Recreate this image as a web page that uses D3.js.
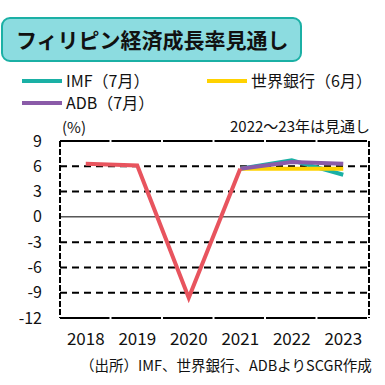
<!DOCTYPE html>
<html><head><meta charset="utf-8">
<script src="https://cdn.jsdelivr.net/npm/d3@7"></script>
<style>body{margin:0;background:#fff}svg{display:block;font-family:"Noto Sans CJK JP","Noto Sans",sans-serif}</style>
</head><body><svg id="c" width="385" height="385"></svg>
<script>
const years = ["2018","2019","2020","2021","2022","2023"];
const actual = [6.3, 6.1, -9.6, 5.7];
const imf = [5.7, 6.7, 5.0];
const wb = [5.7, 5.7, 5.7];
const adb = [5.7, 6.5, 6.3];
const forecastYears = ["2021","2022","2023"];
const yTicks = [9, 6, 3, 0, -3, -6, -9, -12];

const svg = d3.select("#c");
const x = d3.scaleBand().domain(years).range([60, 369]);
const y = d3.scaleLinear().domain([-12, 9]).range([318, 141]);
const cx = d => x(d) + x.bandwidth()/2;

// title
svg.append("rect").attr("x",2).attr("y",18).attr("width",299).attr("height",43).attr("rx",8)
  .attr("fill","#8CDCE0").attr("stroke","#1BB0A5").attr("stroke-width",2);
svg.append("text").attr("x",16).attr("y",48).attr("font-size",21).attr("font-weight","bold")
  .attr("fill","#111").text("フィリピン経済成長率見通し");

// legend
const leg = [
  {t:"IMF（7月）", c:"#1AB0A5", x:22, y:81},
  {t:"世界銀行（6月）", c:"#FFD200", x:207, y:81},
  {t:"ADB（7月）", c:"#8A5BA8", x:22, y:103}
];
leg.forEach(l=>{
  svg.append("line").attr("x1",l.x).attr("x2",l.x+40).attr("y1",l.y).attr("y2",l.y)
    .attr("stroke",l.c).attr("stroke-width",4);
  svg.append("text").attr("x",l.x+44).attr("y",l.y+6).attr("font-size",16).attr("fill","#111").text(l.t);
});

svg.append("text").attr("x",62).attr("y",133).attr("font-size",15).attr("fill","#111").text("(%)");
svg.append("text").attr("x",370).attr("y",132).attr("text-anchor","end").attr("font-size",15).attr("fill","#111").text("2022～23年は見通し");

// gridlines
yTicks.forEach(v=>{
  if (v===9 || v===-12) return;
  svg.append("line").attr("x1",60).attr("x2",369).attr("y1",y(v)).attr("y2",y(v))
    .attr("stroke","#000").attr("stroke-width", v===0?1:2)
    .attr("stroke-dasharray", v===0?null:"7,5");
});

// border
const bw = x.bandwidth();
svg.append("line").attr("x1",60).attr("x2",369).attr("y1",y(9)).attr("y2",y(9))
  .attr("stroke","#000").attr("stroke-width",2).attr("stroke-dasharray",(bw-2)+",2");
svg.append("line").attr("x1",60).attr("x2",369).attr("y1",y(-12)).attr("y2",y(-12))
  .attr("stroke","#000").attr("stroke-width",2).attr("stroke-dasharray",(bw-2)+",2");
[60,369].forEach(px=>{
  svg.append("line").attr("x1",px).attr("x2",px).attr("y1",y(9)).attr("y2",y(-12))
    .attr("stroke","#000").attr("stroke-width",2).attr("stroke-dasharray","6,2");
});

// y axis labels
const ya = svg.append("g").attr("transform","translate(42,0)")
  .call(d3.axisLeft(y).tickValues(yTicks).tickFormat(d=>String(d)).tickSize(0).tickPadding(0));
ya.select(".domain").remove();
ya.selectAll("text").attr("font-size",16).attr("fill","#111").attr("font-family","'Noto Sans CJK JP',sans-serif");

// x axis labels
const xa = svg.append("g").attr("transform","translate(0,330)")
  .call(d3.axisBottom(x).tickSize(0).tickPadding(0));
xa.select(".domain").remove();
xa.selectAll("text").attr("font-size",17).attr("fill","#111").attr("dy","0.9em").attr("font-family","'Noto Sans CJK JP',sans-serif");

svg.append("text").attr("x",80).attr("y",371).attr("font-size",14.5).attr("fill","#111").text("（出所）IMF、世界銀行、ADBよりSCGR作成");

// lines
const line = d3.line().x(d=>cx(d[0])).y(d=>y(d[1]));
const series = [
  {v:imf, c:"#1AB0A5"},
  {v:wb, c:"#FFD200"},
  {v:adb, c:"#8A5BA8"}
];
series.forEach(s=>{
  svg.append("path").attr("d", line(forecastYears.map((yr,i)=>[yr,s.v[i]])))
    .attr("fill","none").attr("stroke",s.c).attr("stroke-width",4);
});
svg.append("path").attr("d", line(years.slice(0,4).map((yr,i)=>[yr,actual[i]])))
  .attr("fill","none").attr("stroke","#E8545E").attr("stroke-width",4).attr("stroke-linejoin","miter");
</script></body></html>
